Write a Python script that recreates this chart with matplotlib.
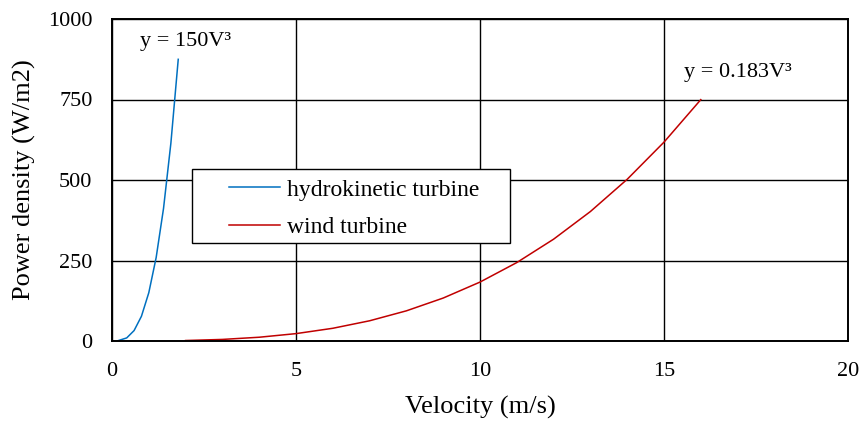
import matplotlib.pyplot as plt
from matplotlib.patches import Rectangle

plt.rcParams["font.family"] = ["Liberation Serif", "DejaVu Serif"]

# velocity (m/s) and power density (W/m2) for each turbine type
hydro_v = [0.15, 0.4, 0.6, 0.8, 1.0, 1.2, 1.4, 1.6, 1.8]
hydro_p = [0.5, 9.6, 32.4, 76.8, 150.0, 259.2, 411.6, 614.4, 874.8]

wind_v = [2, 3, 4, 5, 6, 7, 8, 9, 10, 11, 12, 13, 14, 15, 16]
wind_p = [1.5, 4.9, 11.7, 22.9, 39.5, 62.8, 93.7, 133.4, 183.0,
          243.6, 316.2, 402.1, 502.2, 617.6, 749.6]

x_ticks = [0, 5, 10, 15, 20]
y_ticks = [0, 250, 500, 750, 1000]

fig = plt.figure(figsize=(8.61, 4.21), dpi=100)
ax = fig.add_axes([112 / 861, 80 / 421, 736 / 861, 322 / 421])

ax.plot(hydro_v, hydro_p, color="#0070C0", lw=1.1, label="hydrokinetic turbine")
ax.plot(wind_v, wind_p, color="#C00000", lw=1.1, label="wind turbine")

ax.set_xlim(0, 20)
ax.set_ylim(0, 1000)
ax.set_xticks(x_ticks)
ax.set_yticks(y_ticks)
ax.grid(True, color="black", lw=1.0)
ax.tick_params(axis="y", length=0, labelsize=16, pad=14)
ax.tick_params(axis="x", length=0, labelsize=16, pad=15)
for s in ax.spines.values():
    s.set_color("black")
    s.set_linewidth(1.4)

ax.set_xlabel("Velocity (m/s)", fontsize=19)
ax.set_ylabel("Power density (W/m2)", fontsize=19)
ax.xaxis.set_label_coords(0.5, -0.17)
ax.yaxis.set_label_coords(-0.103, 0.5)

ax.text(2.0, 929, "y = 150V³", fontsize=16, ha="center", va="center")
ax.text(17.0, 835, "y = 0.183V³", fontsize=16, ha="center", va="center")

# legend box drawn separately so the entries can sit indented inside it
box = Rectangle((80 / 736, 98 / 322), 318 / 736, 74 / 322, transform=ax.transAxes,
                facecolor="white", edgecolor="black", lw=1.0, zorder=4)
ax.add_patch(box)
leg = ax.legend(loc="upper left", bbox_to_anchor=(117 / 736, 162 / 322),
                fontsize=17, frameon=False, borderpad=0, borderaxespad=0,
                handlelength=2.16, handletextpad=0.3, labelspacing=0.68)
leg.set_zorder(5)

fig.savefig("out.png", dpi=100, facecolor="white")
